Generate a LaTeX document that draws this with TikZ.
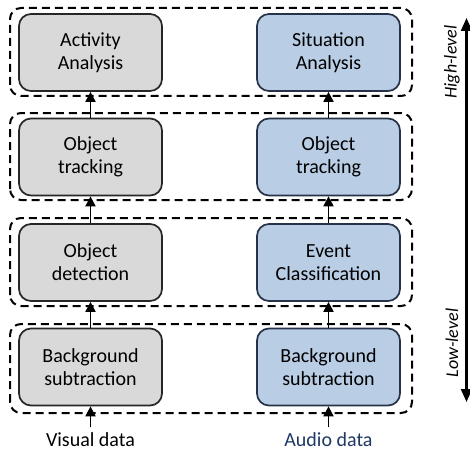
\documentclass[tikz,border=0pt]{standalone}
\usepackage{fontspec}
\setmainfont{Carlito}
\usetikzlibrary{arrows.meta}

\definecolor{boxgray}{RGB}{217,217,217}
\definecolor{boxblue}{RGB}{185,205,229}
\definecolor{blueline}{RGB}{38,50,72}
\definecolor{audiotext}{RGB}{31,56,100}

\begin{document}
\begin{tikzpicture}[x=1pt, y=1pt,
    proc/.style={rectangle, rounded corners=12pt, draw, line width=1.7pt,
      minimum width=143pt, minimum height=77pt, align=center,
      font=\fontsize{20}{23}\selectfont},
    visbox/.style={proc, fill=boxgray, draw=black!85},
    audbox/.style={proc, fill=boxblue, draw=blueline},
    layer/.style={draw, line width=2pt, dash pattern=on 8pt off 5pt, rounded corners=11pt},
    flow/.style={-{Triangle[length=10pt, width=10pt]}, line width=1.8pt}]
    \useasboundingbox (0,0) rectangle (470,456);

    % layers, bottom to top
    \draw [layer] (10,43) rectangle (412,132);
    \draw [layer] (10,150) rectangle (412,238);
    \draw [layer] (10,256) rectangle (412,343);
    \draw [layer] (10,360) rectangle (412,448);

    \begin{scope}[every node/.style={visbox}]
      \node (v1) at (90.5,89) {Background\\subtraction};
      \node (v2) at (90.5,193.5) {Object\\detection};
      \node (v3) at (90.5,299) {Object\\tracking};
      \node (v4) at (90.5,403.5) {Activity\\Analysis};
    \end{scope}
    \begin{scope}[every node/.style={audbox}]
      \node (a1) at (328.5,89) {Background\\subtraction};
      \node (a2) at (328.5,193.5) {Event\\Classification};
      \node (a3) at (328.5,299) {Object\\tracking};
      \node (a4) at (328.5,403.5) {Situation\\Analysis};
    \end{scope}

    \node [font=\fontsize{20}{23}\selectfont] (vin) at (90.5,16) {Visual data};
    \node [font=\fontsize{20}{23}\selectfont, text=audiotext] (ain) at (328.5,16) {Audio data};

    \begin{scope}[flow]
      \draw (vin.north) ++(0,2) -- (v1);
      \draw (ain.north) ++(0,2) -- (a1);
      \draw (v1) -- (v2);
      \draw (v2) -- (v3);
      \draw (v3) -- (v4);
      \draw (a1) -- (a2);
      \draw (a2) -- (a3);
      \draw (a3) -- (a4);
    \end{scope}

    % level axis
    \coordinate (hi) at (466.5,438);
    \coordinate (lo) at (466.5,54);
    \draw [{Triangle[length=13pt, width=11pt]}-{Triangle[length=13pt, width=11pt]}, line width=2.2pt] (lo) -- (hi);
    \node [rotate=90, font=\fontsize{18}{21}\selectfont\itshape] (high) at (452,394) {High-level};
    \node [rotate=90, font=\fontsize{18}{21}\selectfont\itshape] (low) at (452,113) {Low-level};
\end{tikzpicture}
\end{document}
